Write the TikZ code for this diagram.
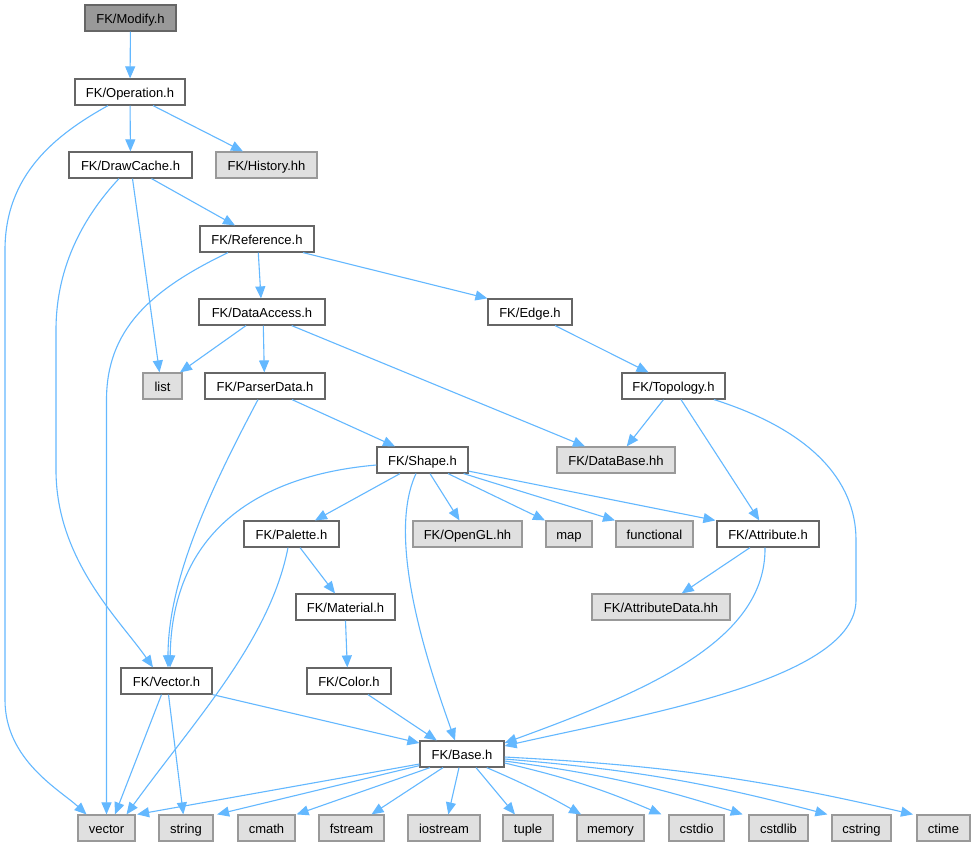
\documentclass[tikz,border=0pt]{standalone}
\usepackage{fontspec}
\setmainfont{Liberation Sans}
\usetikzlibrary{arrows.meta}
\definecolor{edgec}{HTML}{63B8FF}
\definecolor{bordc}{HTML}{666666}
\definecolor{gbordc}{HTML}{999999}
\definecolor{gfill}{HTML}{E0E0E0}
\definecolor{rootfill}{HTML}{999999}
\begin{document}
\begin{tikzpicture}[x=1pt,y=-1pt,
  every node/.style={font=\fontsize{13}{15}\selectfont},
  nbox/.style={draw=bordc, fill=white, line width=1.2pt, inner sep=0pt, text height=12pt, text depth=1.4pt, minimum height=26pt, anchor=center},
  gbox/.style={nbox, draw=gbordc, fill=gfill},
  rootbox/.style={nbox, draw=bordc, fill=rootfill},
  dep/.style={draw=edgec, line width=1.1pt, -{Triangle[length=12pt,width=10pt]}}]
\fill[white] (0,0) rectangle (976,847);
\useasboundingbox (0,0) rectangle (976,847);
% nodes
\node[rootbox, minimum width=91pt] (modify) at (130.5,18) {FK/Modify.h};
\node[nbox, minimum width=110pt] (operation) at (130,92) {FK/Operation.h};
\node[nbox, minimum width=123pt] (drawcache) at (130.5,165) {FK/DrawCache.h};
\node[gbox, minimum width=101pt] (history) at (266.5,165) {FK/History.hh};
\node[nbox, minimum width=114pt] (reference) at (257,239) {FK/Reference.h};
\node[nbox, minimum width=126pt] (dataaccess) at (262,312) {FK/DataAccess.h};
\node[nbox, minimum width=84pt] (edgeh) at (530,312) {FK/Edge.h};
\node[gbox, minimum width=39pt] (list) at (162.5,386) {list};
\node[nbox, minimum width=120pt] (parserdata) at (265,386) {FK/ParserData.h};
\node[nbox, minimum width=103pt] (topology) at (673.5,386) {FK/Topology.h};
\node[gbox, minimum width=118pt] (database) at (616,460) {FK/DataBase.hh};
\node[nbox, minimum width=91pt] (shape) at (422.5,460) {FK/Shape.h};
\node[nbox, minimum width=95pt] (palette) at (291.5,534) {FK/Palette.h};
\node[gbox, minimum width=109pt] (opengl) at (467.5,534) {FK/OpenGL.hh};
\node[gbox, minimum width=46pt] (map) at (569,534) {map};
\node[gbox, minimum width=77pt] (functional) at (654.5,534) {functional};
\node[nbox, minimum width=102pt] (attribute) at (768,534) {FK/Attribute.h};
\node[nbox, minimum width=99pt] (material) at (345.5,607) {FK/Material.h};
\node[gbox, minimum width=138pt] (attributedata) at (661,607) {FK/AttributeData.hh};
\node[nbox, minimum width=91pt] (vectorh) at (166.5,681) {FK/Vector.h};
\node[nbox, minimum width=84pt] (color) at (349,681) {FK/Color.h};
\node[nbox, minimum width=84pt] (base) at (462,754) {FK/Base.h};
\node[gbox, minimum width=57pt] (vector) at (106.5,828) {vector};
\node[gbox, minimum width=54pt] (string) at (186,828) {string};
\node[gbox, minimum width=57pt] (cmath) at (266.5,828) {cmath};
\node[gbox, minimum width=65pt] (fstream) at (351.5,828) {fstream};
\node[gbox, minimum width=72pt] (iostream) at (444,828) {iostream};
\node[gbox, minimum width=50pt] (tuple) at (528,828) {tuple};
\node[gbox, minimum width=67pt] (memory) at (610.5,828) {memory};
\node[gbox, minimum width=55pt] (cstdio) at (696.5,828) {cstdio};
\node[gbox, minimum width=59pt] (cstdlib) at (778.5,828) {cstdlib};
\node[gbox, minimum width=59pt] (cstring) at (861.5,828) {cstring};
\node[gbox, minimum width=53pt] (ctime) at (943.5,828) {ctime};
% edges
\draw[dep] (modify) -- (operation);
\draw[dep] (operation) -- (drawcache);
\draw[dep] ([xshift=23pt]operation.south) -- ([xshift=-23.5pt]history.north);
\draw[dep] ([xshift=-22pt]operation.south) .. controls (55,135) and (5,175) .. (5,250) -- (5,700) .. controls (5,760) and (60,790) .. ([xshift=-20pt]vector.north);
\draw[dep] ([xshift=2pt]drawcache.south) -- ([xshift=-3pt]list.north);
\draw[dep] ([xshift=21pt]drawcache.south) -- ([xshift=-22pt]reference.north);
\draw[dep] ([xshift=-11.5pt]drawcache.south) .. controls (85,215) and (56,265) .. (56,330) -- (56,470) .. controls (56,560) and (120,620) .. ([xshift=-13.5pt]vectorh.north);
\draw[dep] ([xshift=-29pt]reference.south) .. controls (150,290) and (106.5,330) .. (106.5,400) -- (vector.north);
\draw[dep] ([xshift=1.3pt]reference.south) -- ([xshift=-1pt]dataaccess.north);
\draw[dep] ([xshift=46pt]reference.south) -- (edgeh.north west);
\draw[dep] ([xshift=-16pt]dataaccess.south) -- ([xshift=17.5pt]list.north);
\draw[dep] ([xshift=1.3pt]dataaccess.south) -- ([xshift=-0.7pt]parserdata.north);
\draw[dep] ([xshift=29.7pt]dataaccess.south) -- ([xshift=-31pt]database.north);
\draw[dep] ([xshift=25pt]edgeh.south) -- ([xshift=-25pt]topology.north);
\draw[dep] ([xshift=-10pt]topology.south) -- ([xshift=10.7pt]database.north);
\draw[dep] ([xshift=7.5pt]topology.south) -- ([xshift=-8.7pt]attribute.north);
\draw[dep] ([xshift=40.5pt]topology.south) .. controls (810,430) and (856,480) .. (856,540) -- (856,600) .. controls (856,680) and (640,715) .. ([yshift=8pt]base.east);
\draw[dep] ([xshift=27pt]parserdata.south) -- ([xshift=-27.5pt]shape.north);
\draw[dep] ([xshift=-7pt]parserdata.south) .. controls (210,490) and (168,580) .. ([xshift=1.5pt]vectorh.north);
\draw[dep] ([yshift=-5pt]shape.west) .. controls (260,475) and (172,530) .. ([xshift=3.5pt]vectorh.north);
\draw[dep] ([xshift=-22.5pt]shape.south) -- ([xshift=23.5pt]palette.north);
\draw[dep] ([xshift=-6.5pt]shape.south) .. controls (385,540) and (430,670) .. ([xshift=-7pt]base.north);
\draw[dep] ([xshift=7.5pt]shape.south) -- ([xshift=-8pt]opengl.north);
\draw[dep] ([xshift=25.5pt]shape.south) -- ([xshift=-24pt]map.north);
\draw[dep] ([xshift=-5pt]shape.south east) -- ([xshift=-39.5pt]functional.north);
\draw[dep] ([yshift=2.5pt]shape.south east) -- ([xshift=-1pt]attribute.north west);
\draw[dep] ([xshift=-3.5pt]palette.south) .. controls (270,640) and (195,720) .. ([xshift=20pt]vector.north);
\draw[dep] ([xshift=8.5pt]palette.south) -- ([xshift=-10.5pt]material.north);
\draw[dep] (material.south) -- ([xshift=-1.7pt]color.north);
\draw[dep] ([xshift=-18pt]attribute.south) -- ([xshift=20.7pt]attributedata.north);
\draw[dep] ([xshift=-3pt]attribute.south) .. controls (766,640) and (650,690) .. ([yshift=11pt]base.east);
\draw[dep] ([xshift=-5pt]vectorh.south) -- ([xshift=8.5pt]vector.north);
\draw[dep] ([xshift=2pt]vectorh.south) -- ([xshift=-2.7pt]string.north);
\draw[dep] (vectorh.south east) -- ([yshift=11pt]base.west);
\draw[dep] ([xshift=19pt]color.south) -- ([xshift=-25.3pt]base.north);
\draw[dep] ([yshift=-10pt]base.west) -- ([xshift=1.5pt]vector.north east);
\draw[dep] ([yshift=2pt]base.south west) -- ([xshift=3.5pt]string.north east);
\draw[dep] ([xshift=-32pt]base.south) -- ([xshift=1pt]cmath.north east);
\draw[dep] ([xshift=-19pt]base.south) -- ([xshift=20pt]fstream.north);
\draw[dep] ([xshift=-3pt]base.south) -- ([xshift=4.3pt]iostream.north);
\draw[dep] ([xshift=14pt]base.south) -- ([xshift=-13pt]tuple.north);
\draw[dep] ([xshift=24.7pt]base.south) to[bend left=3] ([xshift=4.7pt]memory.north west);
\draw[dep] ([yshift=-9pt]base.east) to[bend left=5] ([xshift=-7pt]cstdio.north west);
\draw[dep] ([yshift=-7pt]base.east) to[bend left=5] ([xshift=-5.7pt]cstdlib.north west);
\draw[dep] ([yshift=-5pt]base.east) to[bend left=5] ([xshift=-4pt]cstring.north west);
\draw[dep] ([yshift=-3pt]base.east) to[bend left=5] ([xshift=-3.4pt]ctime.north west);
\end{tikzpicture}
\end{document}
